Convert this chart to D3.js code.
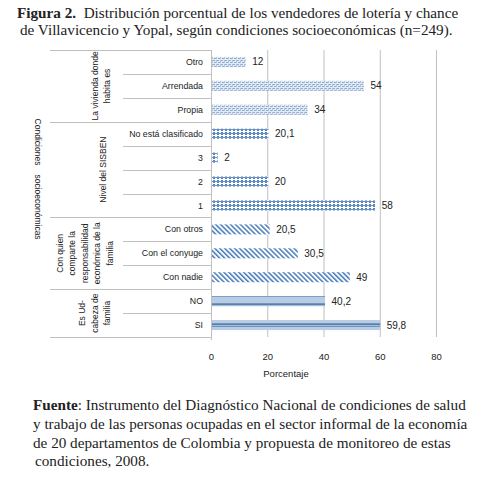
<!DOCTYPE html>
<html><head><meta charset="utf-8">
<script src="https://cdn.jsdelivr.net/npm/d3@7"></script>
<style>
body{margin:0;background:#fff}
svg text{fill:#222}
</style></head>
<body><div id="chart"></div>
<script>
// orden tal cual aparece (arriba -> abajo)
const categorias = ["Otro","Arrendada","Propia","No está clasificado","3","2","1","Con otros","Con el conyuge","Con nadie","NO","SI"];
const valores = [12,54,34,20.1,2,20,58,20.5,30.5,49,40.2,59.8];
const etiquetas = ["12","54","34","20,1","2","20","58","20,5","30,5","49","40,2","59,8"];
const grupoDe = [0,0,0,1,1,1,1,2,2,2,3,3];
const grupos = [
  ["La vivienda donde","habita es"],
  ["Nivel del SISBEN"],
  ["Con quien","comparte la","responsabilidad","económica de la","familia"],
  ["Es Ud-","cabeza de","familia"]
];
const ticks = [0,20,40,60,80];

const W=494,H=477;
const svg=d3.select("#chart").append("svg").attr("width",W).attr("height",H);
const defs=svg.append("defs");

// patrones de relleno (uno por grupo)
const p0=defs.append("pattern").attr("id","p0").attr("patternUnits","userSpaceOnUse").attr("width",4).attr("height",4);
p0.append("rect").attr("width",4).attr("height",4).attr("fill","#e2eaf4");
p0.append("rect").attr("width",3).attr("height",1).attr("fill","#93aed3");
p0.append("rect").attr("x",2).attr("y",2).attr("width",3).attr("height",1).attr("fill","#93aed3");
p0.append("rect").attr("x",0).attr("y",0).attr("width",1).attr("height",3).attr("fill","#aec3de");

const p1=defs.append("pattern").attr("id","p1").attr("patternUnits","userSpaceOnUse").attr("width",4).attr("height",4);
p1.append("rect").attr("width",4).attr("height",4).attr("fill","#fff");
p1.append("rect").attr("x",1).attr("y",0).attr("width",2).attr("height",3).attr("fill","#4f7fbd");
p1.append("rect").attr("x",0).attr("y",1).attr("width",4).attr("height",1).attr("fill","#6a93c8");

const p2=defs.append("pattern").attr("id","p2").attr("patternUnits","userSpaceOnUse").attr("width",3.5).attr("height",3.5).attr("patternTransform","rotate(-45)");
p2.append("rect").attr("width",3.5).attr("height",3.5).attr("fill","#fff");
p2.append("rect").attr("width",1.6).attr("height",3.5).attr("fill","#4f81bd");

const p3=defs.append("pattern").attr("id","p3").attr("patternUnits","userSpaceOnUse").attr("width",10).attr("height",10);
p3.append("rect").attr("width",10).attr("height",10).attr("fill","#b8cce4");
p3.append("rect").attr("y",3.5).attr("width",10).attr("height",1.2).attr("fill","#2f5f98");
p3.append("rect").attr("y",5.8).attr("width",10).attr("height",1).attr("fill","#5b86bd");

const x=d3.scaleLinear().domain([0,80]).range([211.5,436.5]);
const y=d3.scaleBand().domain(categorias).range([50,337]).paddingInner(0.58).paddingOuter(0.29);
const step=y.step();
const yTop=c=>y(c)-step*0.29; // borde superior de la fila

// rejilla vertical
svg.append("g").selectAll("line").data(ticks.slice(1)).join("line")
  .attr("x1",d=>x(d)).attr("x2",d=>x(d)).attr("y1",50).attr("y2",337)
  .attr("stroke","#c0c0c0").attr("stroke-width",1);

// separadores de filas y grupos
const sep=svg.append("g").attr("stroke","#c0c0c0").attr("stroke-width",1);
categorias.forEach((c,i)=>{
  const yy=Math.round(yTop(c))+0.5;
  const inicioGrupo = i===0 || grupoDe[i]!==grupoDe[i-1];
  sep.append("line").attr("x1",inicioGrupo?50:123).attr("x2",211.5).attr("y1",yy).attr("y2",yy);
});
sep.append("line").attr("x1",50).attr("x2",211.5).attr("y1",337.5).attr("y2",337.5);
sep.append("line").attr("x1",211.5).attr("x2",211.5).attr("y1",50).attr("y2",340);

// barras
svg.append("g").selectAll("rect").data(categorias).join("rect")
  .attr("x",x(0)+0.5).attr("y",c=>y(c)).attr("height",y.bandwidth())
  .attr("width",(c,i)=>x(valores[i])-x(0))
  .attr("fill",(c,i)=>`url(#p${grupoDe[i]})`);

// valores
svg.append("g").selectAll("text").data(categorias).join("text")
  .attr("x",(c,i)=>x(valores[i])+7).attr("y",c=>y(c)+y.bandwidth()/2).attr("dy","0.35em")
  .attr("font-family","Liberation Sans, Arial, sans-serif").attr("font-size",10)
  .text((c,i)=>etiquetas[i]);

// etiquetas de categoría
svg.append("g").selectAll("text").data(categorias).join("text")
  .attr("x",203).attr("y",c=>y(c)+y.bandwidth()/2).attr("dy","0.35em").attr("text-anchor","end")
  .attr("font-family","Liberation Sans, Arial, sans-serif").attr("font-size",8.8)
  .text(c=>c);

// etiquetas de grupo (rotadas)
const centroX=[101,103,85,95];
grupos.forEach((lineas,g)=>{
  const filas=categorias.filter((c,i)=>grupoDe[i]===g);
  const y0=yTop(filas[0]), y1=yTop(filas[filas.length-1])+step;
  const cy=(y0+y1)/2, lh=12.5;
  const t=svg.append("text").attr("transform",`translate(${centroX[g]},${cy}) rotate(-90)`)
    .attr("text-anchor","middle").attr("font-family","Liberation Sans, Arial, sans-serif").attr("font-size",8.5);
  lineas.forEach((l,k)=>t.append("tspan").attr("x",0).attr("y",(k-(lineas.length-1)/2)*lh).attr("dy","0.35em").text(l));
});

// titulo del eje vertical
[["Condiciones",142],["socioeconómicas",207]].forEach(([s,cy])=>{
  svg.append("text").attr("transform",`translate(35,${cy}) rotate(90)`).attr("text-anchor","middle")
    .attr("font-family","Liberation Sans, Arial, sans-serif").attr("font-size",8.5).text(s);
});

// eje x
svg.append("g").selectAll("text").data(ticks).join("text")
  .attr("x",d=>x(d)).attr("y",360).attr("text-anchor","middle")
  .attr("font-family","Liberation Sans, Arial, sans-serif").attr("font-size",9.5).text(d=>d);
svg.append("text").attr("x",286).attr("y",377).attr("text-anchor","middle")
  .attr("font-family","Liberation Sans, Arial, sans-serif").attr("font-size",9.5).text("Porcentaje");

// titulo de la figura
const serif="Liberation Serif, Times New Roman, serif";
const fs=15.2;
const t1=svg.append("text").attr("x",17).attr("y",18).attr("font-family",serif).attr("font-size",fs);
t1.append("tspan").attr("font-weight","bold").text("Figura 2.");
t1.append("tspan").text("\u00a0 Distribución porcentual de los vendedores de lotería y chance");
svg.append("text").attr("x",20).attr("y",35).attr("font-family",serif).attr("font-size",fs)
  .text("de Villavicencio y Yopal, según condiciones socioeconómicas (n=249).");

// fuente
const fuente=["y trabajo de las personas ocupadas en el sector informal de la economía",
  "de 20 departamentos de Colombia y propuesta de monitoreo de estas",
  "condiciones, 2008."];
const f1=svg.append("text").attr("x",33).attr("y",410).attr("font-family",serif).attr("font-size",fs);
f1.append("tspan").attr("font-weight","bold").text("Fuente");
f1.append("tspan").text(": Instrumento del Diagnóstico Nacional de condiciones de salud");
fuente.forEach((l,k)=>svg.append("text").attr("x",k===2?35:33).attr("y",429+k*18.5)
  .attr("font-family",serif).attr("font-size",fs).text(l));
</script></body></html>
